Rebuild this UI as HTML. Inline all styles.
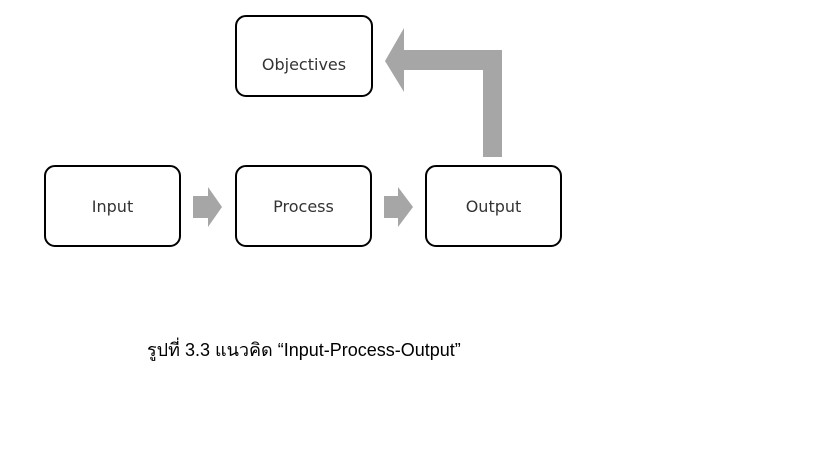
<!DOCTYPE html>
<html><head><meta charset="utf-8"><style>
body{margin:0;background:#fff;width:819px;height:460px;overflow:hidden;position:relative}
.b{position:absolute;border:2px solid #000;border-radius:11px;box-sizing:border-box;display:flex;align-items:center;justify-content:center;font-family:"DejaVu Sans","Liberation Sans",sans-serif;font-size:16px;color:#333}
.cap{position:absolute;left:147px;top:335px;font-family:"Liberation Sans","Noto Sans CJK SC",sans-serif;font-size:18px;color:#000;white-space:nowrap}
</style></head><body>
<div class="b" style="left:235px;top:15px;width:138px;height:82px;padding-top:16px">Objectives</div>
<div class="b" style="left:44px;top:165px;width:137px;height:82px">Input</div>
<div class="b" style="left:235px;top:165px;width:137px;height:82px">Process</div>
<div class="b" style="left:425px;top:165px;width:137px;height:82px">Output</div>
<svg width="819" height="460" style="position:absolute;left:0;top:0">
<g fill="#a6a6a6">
<polygon points="193,196 208,196 208,187 222,207 208,227 208,218 193,218"/>
<polygon points="384,196 398,196 398,187 413,207 398,227 398,218 384,218"/>
<polygon points="502,157 483,157 483,70 404,70 404,92 385,61 404,28 404,50 502,50"/>
</g></svg>
<div class="cap">รูปที่ 3.3 แนวคิด “Input-Process-Output”</div>
</body></html>
